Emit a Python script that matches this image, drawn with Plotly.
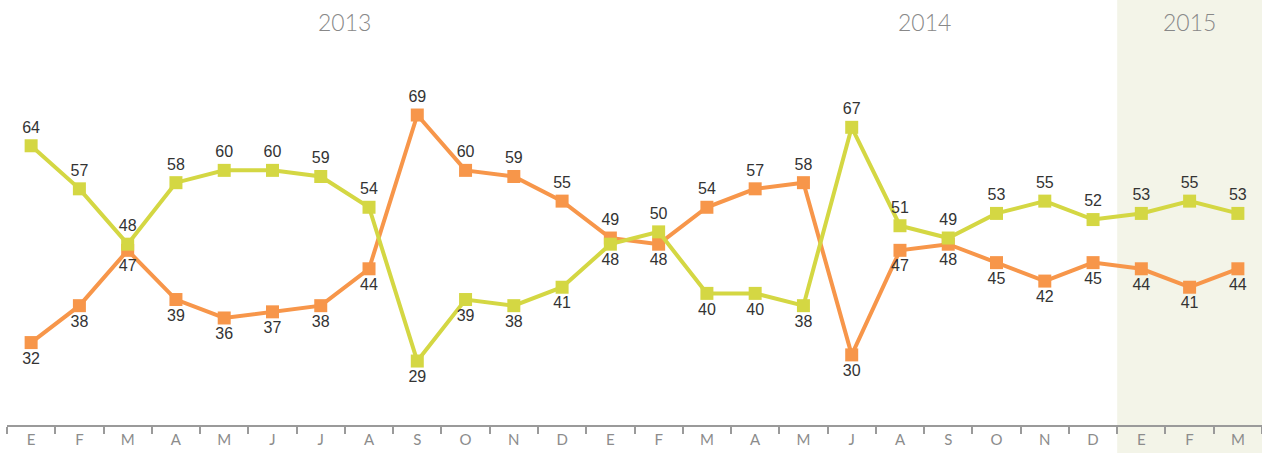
import plotly.graph_objects as go

months = ["E", "F", "M", "A", "M", "J", "J", "A", "S", "O", "N", "D",
          "E", "F", "M", "A", "M", "J", "A", "S", "O", "N", "D",
          "E", "F", "M"]
years = ["2013", "2014", "2015"]
year_pos = [6.5, 18.5, 24]
yellow = [64, 57, 48, 58, 60, 60, 59, 54, 29, 39, 38, 41,
          48, 50, 40, 40, 38, 67, 51, 49, 53, 55, 52,
          53, 55, 53]
orange = [32, 38, 47, 39, 36, 37, 38, 44, 69, 60, 59, 55,
          49, 48, 54, 57, 58, 30, 47, 48, 45, 42, 45,
          44, 41, 44]

YELLOW = "#d4d743"
ORANGE = "#f7964a"
x = list(range(len(months)))

def positions(a, b):
    return ["top center" if va >= vb else "bottom center" for va, vb in zip(a, b)]

fig = go.Figure()
fig.add_trace(go.Scatter(
    x=x, y=orange, mode="lines+markers+text",
    line=dict(color=ORANGE, width=4),
    marker=dict(symbol="square", size=13, color=ORANGE),
    text=[str(v) for v in orange], textposition=positions(orange, yellow),
    textfont=dict(family="Liberation Sans, Arial", size=16, color="#333333"),
    cliponaxis=False, showlegend=False, hoverinfo="skip"))
fig.add_trace(go.Scatter(
    x=x, y=yellow, mode="lines+markers+text",
    line=dict(color=YELLOW, width=4),
    marker=dict(symbol="square", size=13, color=YELLOW),
    text=[str(v) for v in yellow], textposition=positions(yellow, orange),
    textfont=dict(family="Liberation Sans, Arial", size=16, color="#333333"),
    cliponaxis=False, showlegend=False, hoverinfo="skip"))

fig.add_shape(type="rect", xref="x", yref="paper", x0=22.5, x1=26, y0=-0.1, y1=1,
              fillcolor="#f3f4e8", line=dict(width=0), layer="below")

for yr, p in zip(years, year_pos):
    fig.add_annotation(x=p, y=0.948, xref="x", yref="paper", yanchor="middle",
                       text=yr, showarrow=False,
                       font=dict(family="Lato", size=23, color="#888888", weight=300))

fig.update_layout(
    width=1262, height=453,
    margin=dict(l=7, r=0, t=0, b=28),
    paper_bgcolor="white", plot_bgcolor="rgba(0,0,0,0)",
    xaxis=dict(range=[-0.5, 25.5], tickmode="array", tickvals=x, ticktext=months,
               ticks="", showgrid=False, zeroline=False, showline=True,
               linecolor="#9a9a9a", linewidth=2,
               tickfont=dict(family="Lato", size=15, color="#8c8c8c"),
               minor=dict(tickmode="array", tickvals=[i - 0.5 for i in range(len(months) + 1)],
                          ticks="outside", ticklen=7, tickwidth=2, tickcolor="#9a9a9a",
                          showgrid=False)),
    yaxis=dict(range=[18.6, 87.7], visible=False, showgrid=False, zeroline=False),
)

fig.write_html("out.html", config={"displayModeBar": False},
               post_script="document.body.style.margin='0';document.body.style.overflow='hidden';")
